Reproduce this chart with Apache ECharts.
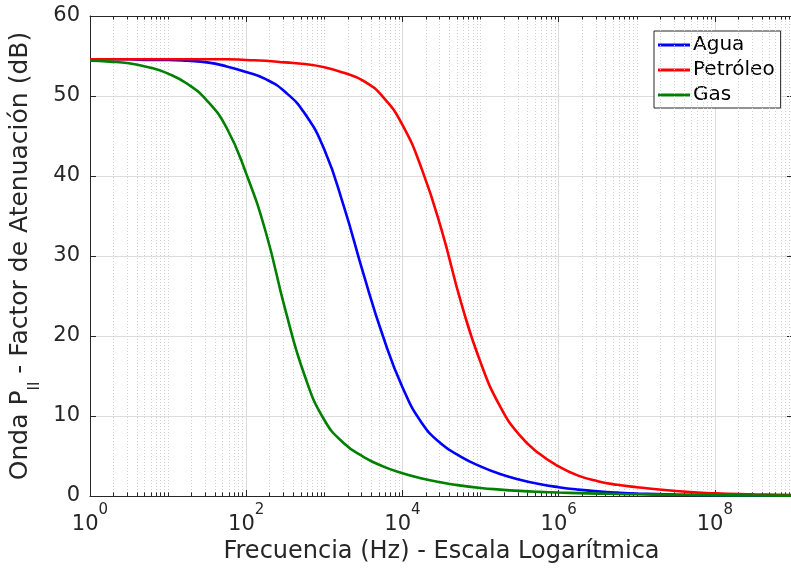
<!DOCTYPE html>
<html>
<head>
<meta charset="utf-8">
<script src="https://cdn.jsdelivr.net/npm/echarts@6/dist/echarts.min.js"></script>
<style>
  html, body { margin: 0; padding: 0; background: #ffffff; }
  #chart { width: 791px; height: 569px; }
</style>
</head>
<body>
<div id="chart"></div>
<script>
// Frequency samples (Hz), quarter-decade steps up to 10^7, then half-decade steps
const freqHz = [
  1, 1.778, 3.162, 5.623, 10, 17.78, 31.62, 56.23,
  100, 177.8, 316.2, 562.3, 1000, 1778, 3162, 5623,
  10000, 17783, 31623, 56234, 100000, 177828, 316228, 562341,
  1000000, 1778279, 3162278, 5623413, 10000000, 31622777, 100000000, 316227766, 1000000000
];

// Attenuation factor (dB) for the P_II wave in each medium
const aguaDb = [
  54.6, 54.6, 54.6, 54.5, 54.5, 54.4, 54.2, 53.7,
  53.0, 52.1, 50.5, 47.8, 43.3, 36.2, 27.8, 20.0,
  13.6, 9.1, 6.5, 4.9, 3.7, 2.75, 2.05, 1.5,
  1.1, 0.8, 0.58, 0.42, 0.31, 0.18, 0.11, 0.07, 0.05
];
const petroleoDb = [
  54.6, 54.6, 54.6, 54.6, 54.6, 54.6, 54.6, 54.6,
  54.5, 54.4, 54.2, 54.0, 53.6, 52.9, 51.9, 49.9,
  46.4, 40.8, 33.3, 24.2, 16.7, 11.2, 7.6, 5.3,
  3.7, 2.55, 1.85, 1.4, 1.1, 0.62, 0.33, 0.2, 0.1
];
const gasDb = [
  54.4, 54.3, 54.1, 53.6, 52.8, 51.5, 49.4, 46.0,
  40.3, 33.0, 23.3, 15.0, 9.5, 6.6, 4.9, 3.7,
  2.85, 2.2, 1.7, 1.3, 1.0, 0.8, 0.64, 0.52,
  0.43, 0.36, 0.3, 0.25, 0.21, 0.15, 0.1, 0.07, 0.05
];

const seriesNames = ['Agua', 'Petróleo', 'Gas'];
const seriesColors = ['#0000ff', '#ff0000', '#008000'];

// Axis ticks
const xMin = 1, xMax = 1e9;
const yTicks = [0, 10, 20, 30, 40, 50, 60];
const decadeExponents = [0, 1, 2, 3, 4, 5, 6, 7, 8];
const minorMultipliers = [2, 3, 4, 5, 6, 7, 8, 9];

const FONT = 'DejaVu Sans';
const INK = '#262626';

function pairs(ys) { return freqHz.map((f, i) => [f, ys[i]]); }

// Minor (dotted) grid positions: 2..9 x 10^k, plus odd decades
const minorPositions = [];
decadeExponents.forEach(k => {
  if (k % 2 === 1) minorPositions.push(Math.pow(10, k));
  minorMultipliers.forEach(m => minorPositions.push(m * Math.pow(10, k)));
});

const minorGrid = minorPositions.map(v => ({ xAxis: v }));
const minorTicks = [];
minorPositions.forEach(v => {
  minorTicks.push([{ coord: [v, 0] }, { coord: [v, 0.45] }]);
  minorTicks.push([{ coord: [v, 60] }, { coord: [v, 59.55] }]);
});

const chart = echarts.init(document.getElementById('chart'), null, { renderer: 'canvas' });

const dataSeries = [aguaDb, petroleoDb, gasDb].map((ys, i) => ({
  name: seriesNames[i],
  type: 'line',
  data: pairs(ys),
  smooth: 0.5,
  showSymbol: false,
  symbol: 'none',
  lineStyle: { color: seriesColors[i], width: 2.6 },
  itemStyle: { color: seriesColors[i] },
  z: 10 + i,
  animation: false
}));

const option = {
  backgroundColor: '#ffffff',
  animation: false,
  textStyle: { fontFamily: FONT },
  grid: { left: 90, top: 16, width: 703, height: 480, outerBoundsMode: 'none', containLabel: false },
  legend: {
    data: seriesNames,
    orient: 'vertical',
    left: 654,
    top: 31,
    padding: [4, 6, 3, 4],
    itemGap: 5,
    itemWidth: 32,
    itemHeight: 3,
    icon: 'rect',
    backgroundColor: '#ffffff',
    borderColor: INK,
    borderWidth: 1,
    borderRadius: 0,
    textStyle: { fontFamily: FONT, fontSize: 20, color: '#000000', padding: [0, 0, 0, -2] }
  },
  xAxis: [
    {
      type: 'log',
      logBase: 10,
      min: xMin,
      max: xMax,
      interval: 2,
      position: 'bottom',
      name: 'Frecuencia (Hz) - Escala Logarítmica',
      nameLocation: 'middle',
      nameGap: 40,
      nameTextStyle: { fontFamily: FONT, fontSize: 24, color: INK },
      axisLine: { show: true, onZero: false, lineStyle: { color: INK, width: 1 } },
      axisTick: { show: true, inside: true, length: 6, lineStyle: { color: INK } },
      axisLabel: {
        margin: 7,
        showMaxLabel: false,
        formatter: function (v) {
          const e = Math.round(Math.log10(v));
          if (e % 2 !== 0 || e > 8) return '';
          return '{b|10}{e|' + e + '}';
        },
        rich: {
          b: { fontFamily: FONT, fontSize: 21, color: INK, lineHeight: 32, verticalAlign: 'bottom' },
          e: { fontFamily: FONT, fontSize: 15, color: INK, lineHeight: 15, verticalAlign: 'top' }
        }
      },
      splitLine: { show: true, lineStyle: { color: '#dcdcdc', width: 1 } }
    },
    {
      type: 'log',
      logBase: 10,
      min: xMin,
      max: xMax,
      interval: 2,
      position: 'top',
      axisLine: { show: true, onZero: false, lineStyle: { color: INK, width: 1 } },
      axisTick: { show: true, inside: true, length: 6, lineStyle: { color: INK } },
      axisLabel: { show: false },
      splitLine: { show: false }
    }
  ],
  yAxis: [
    {
      type: 'value',
      min: yTicks[0],
      max: yTicks[yTicks.length - 1],
      interval: 10,
      position: 'left',
      name: '{a|Onda P}{s|II}{a| - Factor de Atenuación (dB)}',
      nameLocation: 'middle',
      nameRotate: 90,
      nameGap: 27,
      nameTextStyle: {
        rich: {
          a: { fontFamily: FONT, fontSize: 25, color: INK, lineHeight: 34, verticalAlign: 'top' },
          s: { fontFamily: FONT, fontSize: 15, color: INK, lineHeight: 15, verticalAlign: 'bottom' }
        }
      },
      axisLine: { show: true, onZero: false, lineStyle: { color: INK, width: 1 } },
      axisTick: { show: true, inside: true, length: 6, lineStyle: { color: INK } },
      axisLabel: { margin: 10, fontFamily: FONT, fontSize: 21, color: INK },
      splitLine: { show: true, lineStyle: { color: '#dcdcdc', width: 1 } }
    },
    {
      type: 'value',
      min: yTicks[0],
      max: yTicks[yTicks.length - 1],
      interval: 10,
      position: 'right',
      axisLine: { show: true, onZero: false, lineStyle: { color: INK, width: 1 } },
      axisTick: { show: true, inside: true, length: 6, lineStyle: { color: INK } },
      axisLabel: { show: false },
      splitLine: { show: false }
    }
  ],
  series: [
    {
      name: 'minor-grid',
      type: 'line',
      data: [],
      silent: true,
      z: 1,
      markLine: {
        silent: true,
        symbol: 'none',
        animation: false,
        label: { show: false },
        lineStyle: { color: '#d0d0d0', width: 1, type: [1, 2] },
        data: minorGrid
      }
    },
    {
      name: 'minor-ticks',
      type: 'line',
      data: [],
      silent: true,
      z: 20,
      markLine: {
        silent: true,
        symbol: 'none',
        animation: false,
        label: { show: false },
        lineStyle: { color: INK, width: 1, type: 'solid' },
        data: minorTicks
      }
    }
  ].concat(dataSeries)
};

chart.setOption(option);
</script>
</body>
</html>
